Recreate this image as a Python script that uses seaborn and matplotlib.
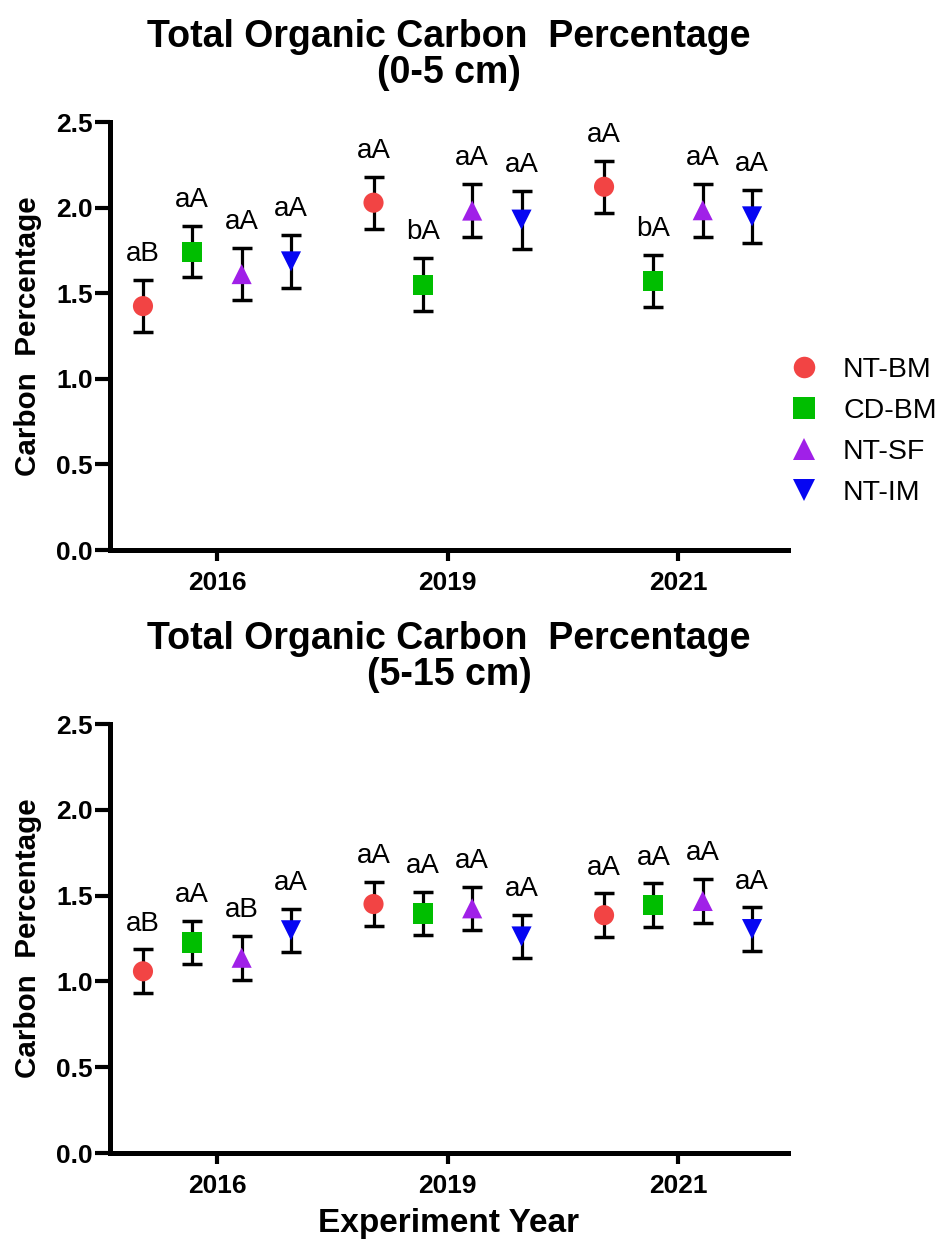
import numpy as np
import pandas as pd
import matplotlib
matplotlib.use("Agg")
import matplotlib.pyplot as plt
from matplotlib.lines import Line2D
import seaborn as sns

# ---- data -------------------------------------------------------------
years = ["2016", "2019", "2021"]
treatments = ["NT-BM", "CD-BM", "NT-SF", "NT-IM"]

# 0-5 cm depth: mean total organic carbon (%) and standard error
top_nt_bm = [1.425, 2.029, 2.122]
top_cd_bm = [1.743, 1.550, 1.570]
top_nt_sf = [1.612, 1.983, 1.985]
top_nt_im = [1.686, 1.930, 1.949]
top_se_nt_bm = [0.151, 0.151, 0.151]
top_se_cd_bm = [0.151, 0.155, 0.153]
top_se_nt_sf = [0.153, 0.154, 0.156]
top_se_nt_im = [0.153, 0.170, 0.153]
top_letters_nt_bm = ["aB", "aA", "aA"]
top_letters_cd_bm = ["aA", "bA", "bA"]
top_letters_nt_sf = ["aA", "aA", "aA"]
top_letters_nt_im = ["aA", "aA", "aA"]

# 5-15 cm depth
bot_nt_bm = [1.059, 1.451, 1.386]
bot_cd_bm = [1.227, 1.396, 1.443]
bot_nt_sf = [1.138, 1.426, 1.469]
bot_nt_im = [1.298, 1.262, 1.305]
bot_se_nt_bm = [0.128, 0.128, 0.127]
bot_se_cd_bm = [0.127, 0.127, 0.128]
bot_se_nt_sf = [0.127, 0.126, 0.127]
bot_se_nt_im = [0.126, 0.125, 0.127]
bot_letters_nt_bm = ["aB", "aA", "aA"]
bot_letters_cd_bm = ["aA", "aA", "aA"]
bot_letters_nt_sf = ["aB", "aA", "aA"]
bot_letters_nt_im = ["aA", "aA", "aA"]

y_ticks = [0.0, 0.5, 1.0, 1.5, 2.0, 2.5]


def build_frame(means, ses, letters):
    rows = []
    for t, m_list, s_list, l_list in zip(treatments, means, ses, letters):
        for yi, (m, s, l) in enumerate(zip(m_list, s_list, l_list)):
            rows.append({"year": years[yi], "treatment": t,
                         "value": m, "se": s, "letter": l})
    return pd.DataFrame(rows)


df_top = build_frame([top_nt_bm, top_cd_bm, top_nt_sf, top_nt_im],
                     [top_se_nt_bm, top_se_cd_bm, top_se_nt_sf, top_se_nt_im],
                     [top_letters_nt_bm, top_letters_cd_bm,
                      top_letters_nt_sf, top_letters_nt_im])
df_bot = build_frame([bot_nt_bm, bot_cd_bm, bot_nt_sf, bot_nt_im],
                     [bot_se_nt_bm, bot_se_cd_bm, bot_se_nt_sf, bot_se_nt_im],
                     [bot_letters_nt_bm, bot_letters_cd_bm,
                      bot_letters_nt_sf, bot_letters_nt_im])

# ---- style ------------------------------------------------------------
sns.set_style("ticks")
plt.rcParams["font.family"] = ["Liberation Sans", "DejaVu Sans"]
plt.rcParams.update({"text.color": "black", "axes.labelcolor": "black",
                     "xtick.color": "black", "ytick.color": "black",
                     "axes.edgecolor": "black"})

palette = {"NT-BM": "#F24444", "CD-BM": "#00BE00",
           "NT-SF": "#A020E8", "NT-IM": "#0606F2"}
markers = {"NT-BM": "o", "CD-BM": "s", "NT-SF": "^", "NT-IM": "v"}
dodge = dict(zip(treatments, [-0.321, -0.107, 0.107, 0.321]))

fig = plt.figure(figsize=(9.37, 12.43), dpi=100)
ax_top = fig.add_axes([0.1174, 0.5575, 0.7236, 0.3443])
ax_bot = fig.add_axes([0.1174, 0.0724, 0.7236, 0.3451])


def draw_panel(ax, df, title):
    df = df.copy()
    df["pos"] = df["year"].map({y: i for i, y in enumerate(years)}) + \
        df["treatment"].map(dodge)
    ax.errorbar(df["pos"], df["value"], yerr=df["se"], fmt="none",
                ecolor="black", elinewidth=2.3, capsize=7.4, capthick=2.5,
                zorder=2)
    sns.scatterplot(data=df, x="pos", y="value", hue="treatment",
                    style="treatment", hue_order=treatments,
                    style_order=treatments, palette=palette, markers=markers,
                    s=210, linewidth=0, legend=False, ax=ax, zorder=3)
    for _, r in df.iterrows():
        ax.annotate(r["letter"], xy=(r["pos"], r["value"] + r["se"]),
                    xytext=(0, 13.5), textcoords="offset points",
                    ha="center", va="baseline", fontsize=20)

    ax.set_xlim(-0.464, 2.477)
    ax.set_ylim(0, 2.5)
    ax.set_xticks(range(len(years)), labels=years)
    ax.set_yticks(y_ticks, labels=[f"{v:.1f}" for v in y_ticks])
    for lab in ax.get_xticklabels() + ax.get_yticklabels():
        lab.set_fontweight("bold")
        lab.set_fontsize(19)
    ax.tick_params(axis="y", length=11, width=3, pad=1.5)
    ax.tick_params(axis="x", length=8, width=3, pad=7)
    sns.despine(ax=ax)
    for side in ["left", "bottom"]:
        ax.spines[side].set_linewidth(3.6)
    ax.set_ylabel("Carbon  Percentage", fontsize=21.3, fontweight="bold",
                  labelpad=10)
    ax.set_xlabel("")
    ax.set_title(title, fontsize=27, fontweight="bold", pad=28,
                 linespacing=1.0)


draw_panel(ax_top, df_top, "Total Organic Carbon  Percentage\n(0-5 cm)")
draw_panel(ax_bot, df_bot, "Total Organic Carbon  Percentage\n(5-15 cm)")
ax_bot.set_xlabel("Experiment Year", fontsize=24, fontweight="bold",
                  labelpad=7)

handles = [Line2D([], [], linestyle="none", marker=markers[t],
                  markersize=15.5, markerfacecolor=palette[t],
                  markeredgewidth=0, label=t) for t in treatments]
fig.legend(handles=handles, loc="upper left",
           bbox_to_anchor=(0.8429, 0.7126), frameon=False, fontsize=20.5,
           handlelength=1.0, handletextpad=0.87, labelspacing=0.52,
           borderpad=0, borderaxespad=0)

fig.savefig("out.png", dpi=100, facecolor="white")
